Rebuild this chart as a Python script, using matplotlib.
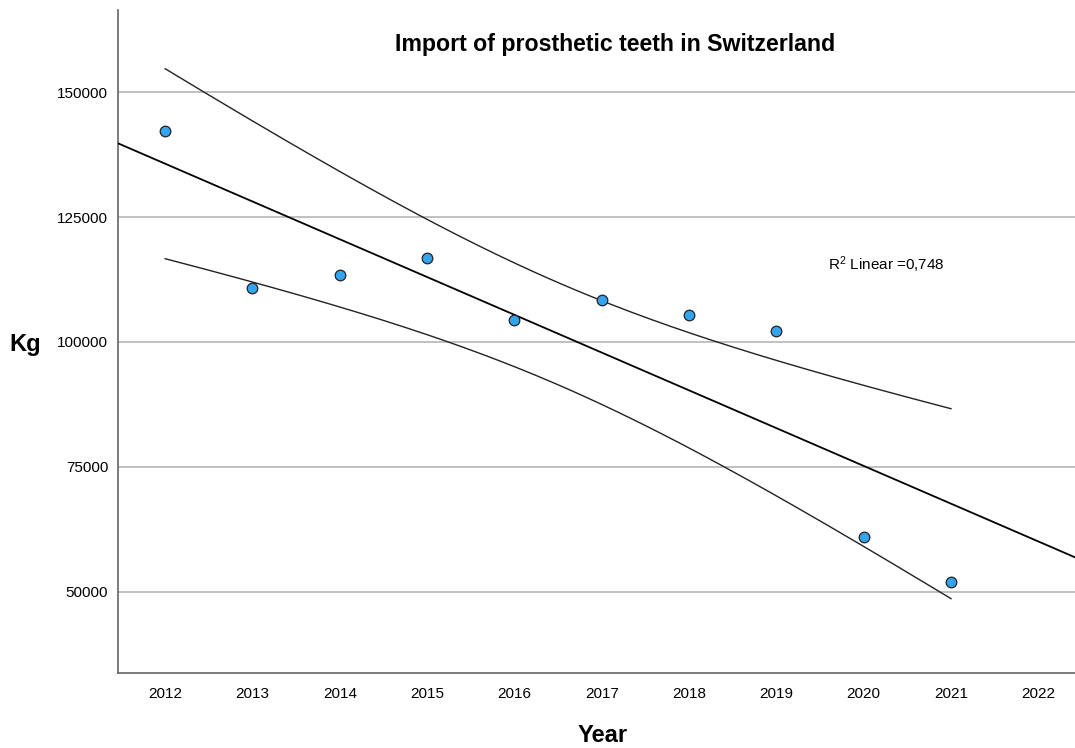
import numpy as np
import matplotlib
matplotlib.use("Agg")
import matplotlib.pyplot as plt

years = [2012, 2013, 2014, 2015, 2016, 2017, 2018, 2019, 2020, 2021]
kg = [142200, 110800, 113400, 116800, 104400, 108400, 105400, 102200, 61000, 52000]
yticks = [50000, 75000, 100000, 125000, 150000]
xticks = list(range(2012, 2023))
r2_label = r"R$^{2}$ Linear =0,748"

plt.rcParams["font.family"] = ["Liberation Sans", "DejaVu Sans"]
plt.rcParams["mathtext.fontset"] = "custom"
plt.rcParams["mathtext.rm"] = "Liberation Sans"
plt.rcParams["mathtext.default"] = "regular"

x = np.array(years, dtype=float)
y = np.array(kg, dtype=float)
n = len(x)
slope, intercept = np.polyfit(x, y, 1)
resid = y - (slope * x + intercept)
s = np.sqrt((resid ** 2).sum() / (n - 2))
sxx = ((x - x.mean()) ** 2).sum()
t = 2.306  # t(0.975, df=8)

fig = plt.figure(figsize=(10.75, 7.48), dpi=100)
ax = fig.add_axes([0.1098, 0.1003, 0.8902, 0.8863])
x0, x1 = 2011.46, 2022.42
ax.set_xlim(x0, x1)
ax.set_ylim(33800, 166400)

# fit line over the full axis, 95% mean CI over the data range
xl = np.linspace(x0, x1, 50)
ax.plot(xl, slope * xl + intercept, color="black", lw=1.3, zorder=3)
xc = np.linspace(x.min(), x.max(), 200)
half = t * s * np.sqrt(1 / n + (xc - x.mean()) ** 2 / sxx)
fit = slope * xc + intercept
ax.plot(xc, fit + half, color="#222222", lw=1.0, zorder=3)
ax.plot(xc, fit - half, color="#222222", lw=1.0, zorder=3)

ax.scatter(x, y, s=58, color="#35a4ef", edgecolor="#222222", linewidth=0.9, zorder=4)

ax.set_xticks(xticks)
ax.set_yticks(yticks)
ax.set_yticklabels([str(v) for v in yticks])
ax.tick_params(length=0, labelsize=11)
ax.tick_params(axis="x", pad=10)
ax.tick_params(axis="y", pad=7)
ax.yaxis.grid(True, color="#b5b5b5", lw=1.2)
ax.set_axisbelow(True)
for sp in ["top", "right"]:
    ax.spines[sp].set_visible(False)
for sp in ["left", "bottom"]:
    ax.spines[sp].set_color("#666666")
    ax.spines[sp].set_linewidth(1.2)

fig.text(615 / 1075, 1 - 45 / 748, "Import of prosthetic teeth in Switzerland",
         ha="center", va="center", fontsize=16.7, fontweight="bold")
ax.text(2019.59, 115400, r2_label, ha="left", va="center", fontsize=11)

fig.text(25 / 1075, 1 - 345 / 748, "Kg", ha="center", va="center", fontsize=17, fontweight="bold")
fig.text(603 / 1075, 1 - 735 / 748, "Year", ha="center", va="center", fontsize=17, fontweight="bold")

fig.savefig("out.png", dpi=100)
